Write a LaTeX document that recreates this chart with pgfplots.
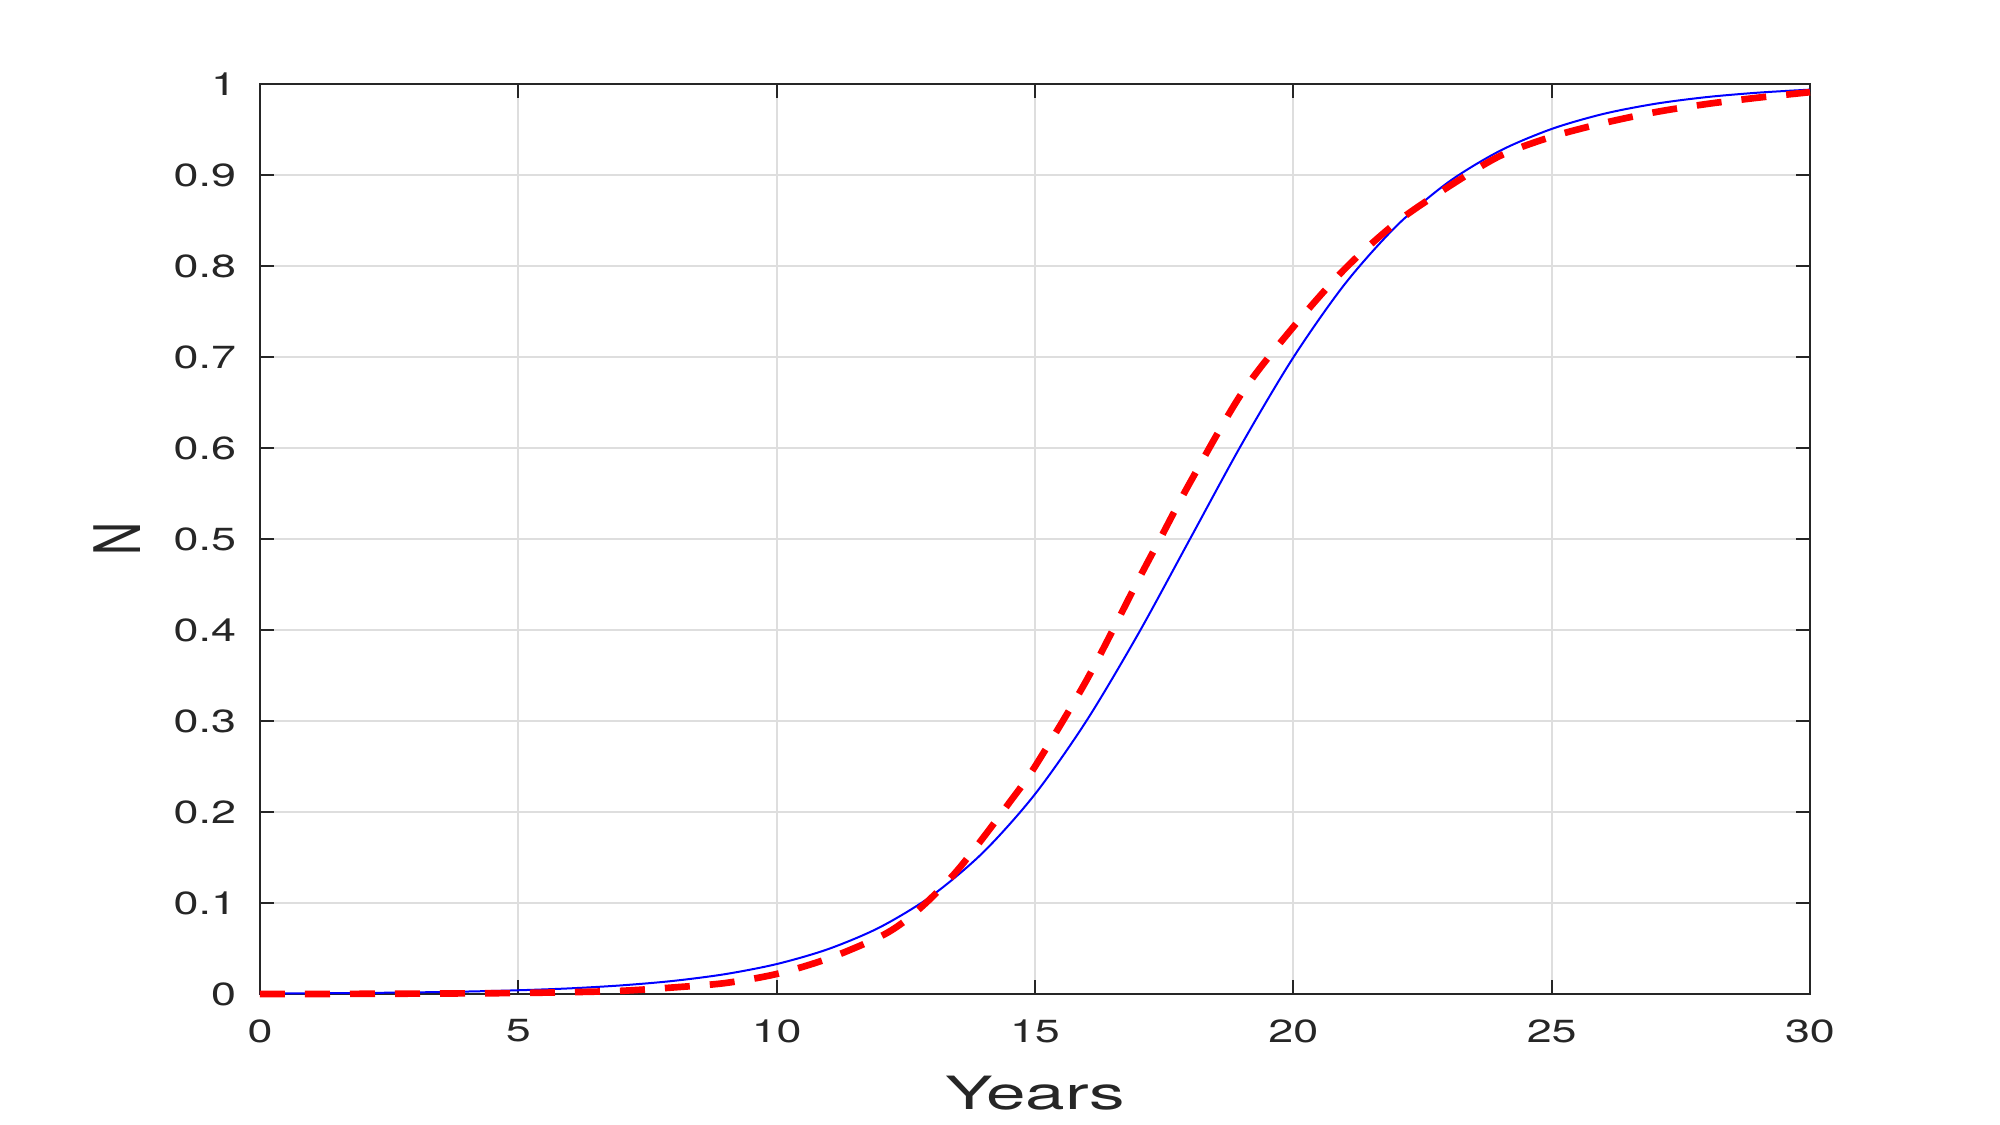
\documentclass[border=0pt]{standalone}
\usepackage{fontspec}
\setmainfont{TeX Gyre Heros}
\usepackage{graphicx}
\usepackage{pgfplots}
\pgfplotsset{compat=1.18}
\definecolor{axgray}{RGB}{38,38,38}
\definecolor{gridgray}{RGB}{222,222,222}
\begin{document}
\begin{tikzpicture}
\path[use as bounding box] (-78pt,-39.3pt) rectangle (522pt,298.2pt);
\begin{axis}[
  at={(0,0)}, anchor=south west,
  scale only axis, width=465pt, height=273pt,
  xmin=0, xmax=30, ymin=0, ymax=1,
  xtick={0,5,...,30}, ytick={0,0.1,...,1.0},
  /pgf/number format/assume math mode=true,
  xticklabel={\scalebox{1.4}[1]{\pgfmathprintnumber{\tick}}},
  yticklabel={\scalebox{1.4}[1]{\pgfmathprintnumber{\tick}}},
  tick label style={font=\fontsize{9.6}{11}\selectfont, text=axgray},
  xticklabel style={anchor=center, yshift=-11.1pt, inner sep=0pt},
  yticklabel style={anchor=east, xshift=-7pt, inner sep=0pt},
  tick align=inside, major tick length=4.2pt,
  tick style={axgray, line width=0.6pt},
  axis line style={axgray, line width=0.6pt},
  grid=major, major grid style={gridgray, line width=0.6pt},
  xlabel={\scalebox{1.55}[1]{Years}},
  ylabel={\scalebox{1}[1.4]{N}},
  label style={font=\fontsize{13.75}{16}\selectfont, text=axgray},
  xlabel style={at={(axis description cs:0.5,-0.1088)}, anchor=center},
  ylabel style={at={(axis description cs:-0.0923,0.5)}, anchor=center, rotate=0},
  clip=false,
]
\addplot[blue, line width=0.6pt, smooth] coordinates {
(0,0.0005) (1,0.00076) (2,0.00116) (3,0.00176) (4,0.0027) (5,0.0041)
(6,0.0062) (7,0.0095) (8,0.0144) (9,0.0218) (10,0.0329) (11,0.0494)
(12,0.0734) (13,0.1079) (14,0.1558) (15,0.2196) (16,0.3005) (17,0.3959)
(18,0.5) (19,0.6041) (20,0.6995) (21,0.7804) (22,0.8442) (23,0.8921)
(24,0.9266) (25,0.9506) (26,0.9671) (27,0.9782) (28,0.9856) (29,0.9905)
(30,0.9938)
};
\addplot[red, line width=2pt, dash pattern=on 7.5pt off 6pt, smooth] coordinates {
(0,0) (1,0) (2,0.0002) (3,0.0004) (4,0.0007) (5,0.0011) (6,0.002)
(7,0.0035) (8,0.0072) (9,0.012) (10,0.022) (11,0.039) (12,0.063)
(12.5,0.081) (13,0.106) (13.5,0.136) (14,0.172) (14.5,0.21) (15,0.25)
(16,0.345) (17,0.455) (17.42,0.50) (18,0.562)
(19,0.66) (20,0.733) (21,0.797) (22,0.848)
(23,0.887) (24,0.921) (25,0.942) (26,0.957) (27,0.969) (28,0.978)
(29,0.985) (30,0.991)
};
\end{axis}
\end{tikzpicture}
\end{document}
